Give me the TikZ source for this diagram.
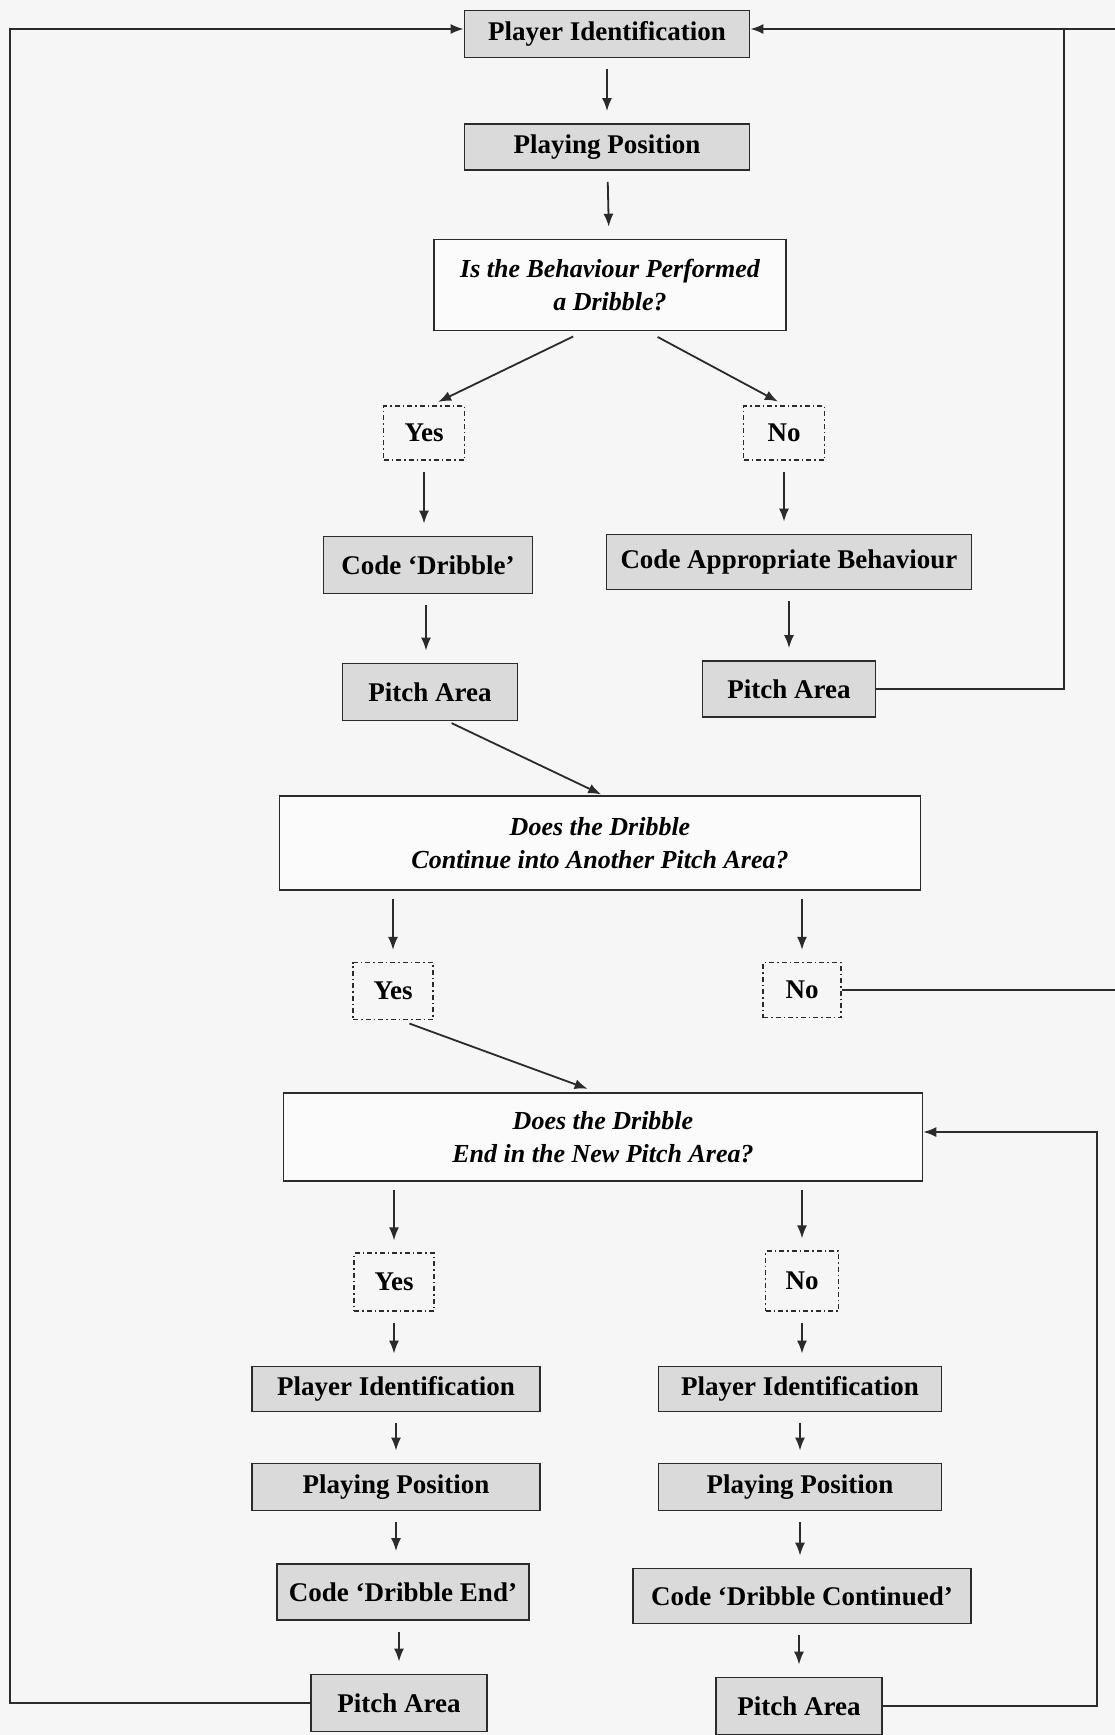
\documentclass[tikz,border=0pt]{standalone}
\usepackage{fontspec}
\setmainfont{Liberation Serif}
\usetikzlibrary{arrows.meta}
\definecolor{bgc}{HTML}{F6F6F6}
\definecolor{boxfill}{HTML}{DADADA}
\definecolor{ink}{HTML}{2B2B2B}
\begin{document}
\begin{tikzpicture}[x=1pt,y=-1pt,
  graybox/.style={draw=ink, line width=1.8pt, fill=boxfill, inner sep=0pt,
     font=\fontsize{27}{30}\selectfont\bfseries, text=black},
  qbox/.style={draw=ink, line width=1.5pt, fill=white!60!bgc, inner sep=0pt, align=center,
     font=\fontsize{26}{33}\selectfont\bfseries\itshape, text=black},
  ynbox/.style={draw=ink, line width=1.2pt, dash pattern=on 5pt off 3pt on 1.5pt off 3pt,
     inner sep=0pt, minimum width=80pt, minimum height=56pt,
     font=\fontsize{27}{30}\selectfont\bfseries, text=black},
  arr/.style={draw=ink, line width=1.8pt, -{Latex[length=13pt,width=10pt]}},
  plain/.style={draw=ink, line width=1.8pt},
  vgap/.style={shorten <=11pt, shorten >=12pt}
]
\fill[bgc] (0,0) rectangle (1115,1735);
\useasboundingbox (0,0) rectangle (1115,1735);

% top column
\node[graybox, minimum width=285pt, minimum height=47pt] (pi1) at (607,34) {Player Identification};
\node[graybox, minimum width=285pt, minimum height=46pt] (pp1) at (607,147) {Playing Position};
\node[qbox, minimum width=352pt, minimum height=91pt] (q1) at (610,285) {Is the Behaviour Performed\\a Dribble?};

\node[ynbox, minimum width=81pt, minimum height=54pt] (yes1) at (424,433) {Yes};
\node[ynbox, minimum width=81pt, minimum height=54pt] (no1) at (784,433) {No};

\node[graybox, minimum width=209pt, minimum height=57pt] (cd) at (428,565) {Code `Dribble'};
\node[graybox, minimum width=365pt, minimum height=55pt] (cab) at (789,562) {Code Appropriate Behaviour};

\node[graybox, minimum width=175pt, minimum height=57pt] (pal1) at (430,692) {Pitch Area};
\node[graybox, minimum width=173pt, minimum height=56pt] (par1) at (789,689) {Pitch Area};

\node[qbox, minimum width=641pt, minimum height=94pt] (q2) at (600,843) {Does the Dribble\\Continue into Another Pitch Area?};

\node[ynbox, minimum width=80pt, minimum height=57pt] (yes2) at (393,991) {Yes};
\node[ynbox, minimum width=78pt, minimum height=55pt] (no2) at (802,990) {No};

\node[qbox, minimum width=639pt, minimum height=88pt] (q3) at (603,1137) {Does the Dribble\\End in the New Pitch Area?};

\node[ynbox, minimum width=80pt, minimum height=58pt] (yes3) at (394,1282) {Yes};
\node[ynbox, minimum width=73pt, minimum height=60pt] (no3) at (802,1281) {No};

\node[graybox, minimum width=288pt, minimum height=45pt] (pil) at (396,1389) {Player Identification};
\node[graybox, minimum width=283pt, minimum height=45pt] (pir) at (800,1389) {Player Identification};

\node[graybox, minimum width=288pt, minimum height=47pt] (ppl) at (396,1487) {Playing Position};
\node[graybox, minimum width=283pt, minimum height=47pt] (ppr) at (800,1487) {Playing Position};

\node[graybox, minimum width=252pt, minimum height=56pt] (cde) at (403,1592) {Code `Dribble End'};
\node[graybox, minimum width=338pt, minimum height=55pt] (cdc) at (802,1596) {Code `Dribble Continued'};

\node[graybox, minimum width=176pt, minimum height=57pt] (pal2) at (399,1703) {Pitch Area};
\node[graybox, minimum width=166pt, minimum height=57pt] (par2) at (799,1706) {Pitch Area};

% loop coordinates
\coordinate (lefttop) at (10,29);
\coordinate (rtop) at (1064,29);
\coordinate (redge) at (1115,29);
\coordinate (nedge) at (1115,982);
\coordinate (rbot) at (1097,1132);

% vertical arrows
\draw[arr, vgap] (pi1) -- (pp1);
\draw[arr, vgap] (pp1) -- (q1);
\draw[arr, shorten <=12pt, shorten >=8pt] ([xshift=-26pt]q1.south) -- ([xshift=7pt]yes1.north);
\draw[arr, shorten <=12pt, shorten >=8pt] ([xshift=37pt]q1.south) -- ([xshift=1pt]no1.north);
\draw[arr, vgap] (yes1.south) -- (yes1.south |- cd.north);
\draw[arr, vgap] (no1.south) -- (no1.south |- cab.north);
\draw[arr, vgap] ([xshift=-2pt]cd.south) -- ([xshift=-2pt]cd.south |- pal1.north);
\draw[arr, vgap] (cab.south) -- (cab.south |- par1.north);
\draw[arr, shorten <=4pt, shorten >=2pt] ([xshift=18pt]pal1.south) -- ([xshift=3pt]q2.north);
\draw[arr, shorten <=8pt, shorten >=12pt] (yes2.north |- q2.south) -- (yes2.north);
\draw[arr, shorten <=8pt, shorten >=12pt] (no2.north |- q2.south) -- (no2.north);
\draw[arr, shorten <=10pt, shorten >=10pt] ([xshift=7pt]yes2.south) -- ([xshift=-6pt]q3.north);
\draw[arr, shorten <=8pt, shorten >=12pt] (yes3.north |- q3.south) -- (yes3.north);
\draw[arr, shorten <=8pt, shorten >=12pt] (no3.north |- q3.south) -- (no3.north);
\draw[arr, vgap] (yes3.south) -- (yes3.south |- pil.north);
\draw[arr, vgap] (no3.south) -- (no3.south |- pir.north);
\draw[arr, vgap] (pil) -- (ppl);
\draw[arr, vgap] (pir) -- (ppr);
\draw[arr, vgap] (ppl.south) -- (ppl.south |- cde.north);
\draw[arr, vgap] (ppr.south) -- (ppr.south |- cdc.north);
\draw[arr, vgap] (cde.south -| pal2.north) -- (pal2.north);
\draw[arr, vgap] (cdc.south -| par2.north) -- (par2.north);

% loops
\draw[arr] (pal2.west) -| (lefttop) -- (lefttop -| pi1.west);
\draw[arr] (par1.east) -| (rtop) -- (rtop -| pi1.east);
\draw[plain] (redge) -- (rtop);
\draw[plain] (no2.east) -- (no2.east -| nedge);
\draw[arr] (par2.east) -| (rbot) -- (rbot -| q3.east);
\end{tikzpicture}
\end{document}
